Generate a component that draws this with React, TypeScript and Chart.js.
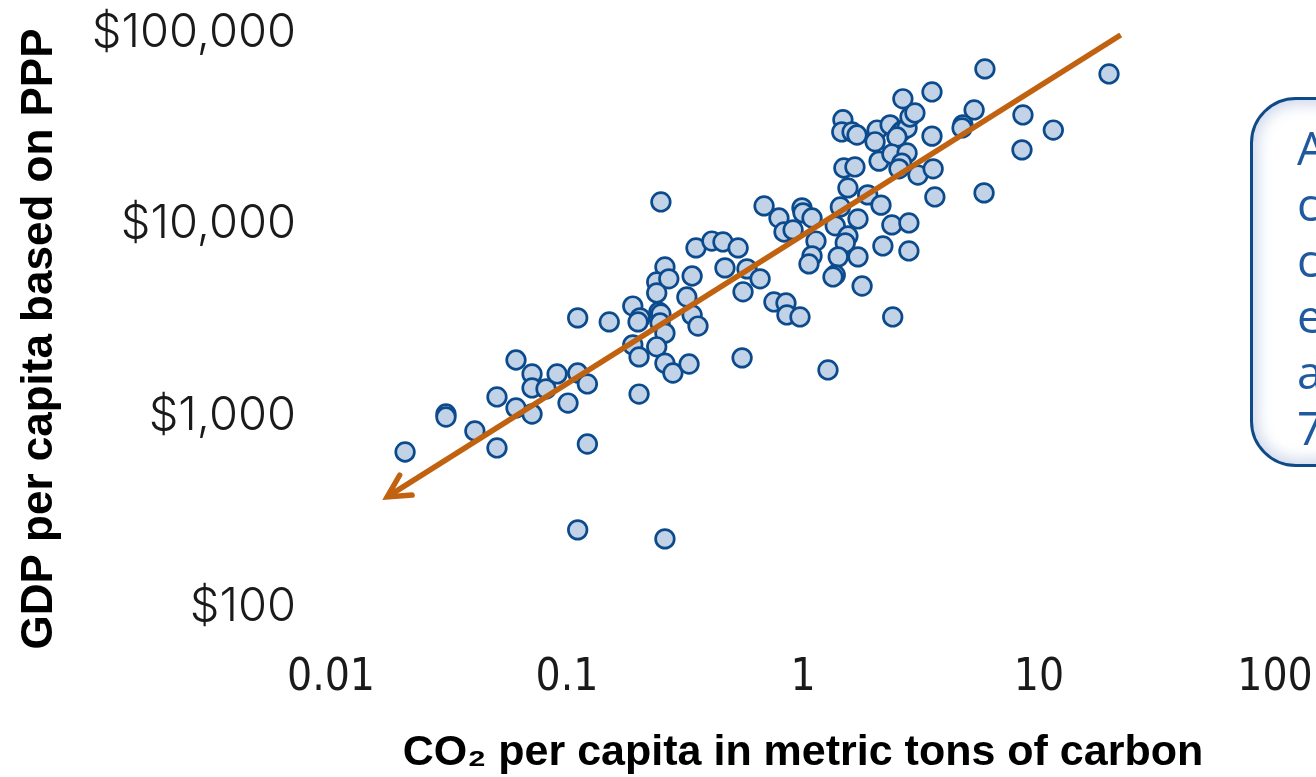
import React, { useEffect, useRef } from "react";
import { Chart, registerables } from "chart.js";

Chart.register(...registerables);

// CO2 per capita (metric tons of carbon) for each country
const co2PerCapita = [
  0.0206, 0.0307, 0.0307, 0.0407, 0.0505, 0.0505, 0.0608, 0.0608, 0.0711, 0.0711,
  0.0815, 0.0711, 0.0908, 0.111, 0.122, 0.101, 0.111, 0.151, 0.122, 0.111,
  0.19, 0.204, 0.2, 0.19, 0.202, 0.202, 0.25, 0.684, 0.791, 0.831,
  0.908, 0.99, 1.0, 1.092, 1.135, 1.092, 1.06, 0.352, 0.411, 0.458,
  0.531, 0.467, 0.579, 0.658, 0.557, 0.26, 0.24, 0.27, 0.24, 0.339,
  0.322, 0.245, 0.25, 0.248, 0.339, 0.359, 0.26, 0.753, 0.847, 0.855,
  0.971, 0.24, 0.26, 0.281, 0.329, 0.552, 1.276, 0.26, 5.9, 19.8,
  3.52, 2.65, 5.31, 8.55, 11.5, 8.47, 4.76, 4.72, 3.52, 1.476,
  1.46, 1.614, 1.694, 2.06, 2.02, 2.34, 2.58, 2.65, 2.76, 2.84,
  2.98, 2.5, 2.1, 2.38, 2.76, 2.62, 2.55, 3.07, 3.56, 1.49,
  1.66, 1.55, 1.88, 2.14, 1.44, 3.62, 5.85, 1.71, 1.37, 2.38,
  2.81, 1.55, 1.51, 2.18, 2.81, 1.41, 1.71, 1.37, 1.34, 1.78,
  2.4,
];

// GDP per capita based on PPP (US$)
const gdpPerCapita = [
  646, 1020, 984, 832, 1253, 678, 1954, 1097, 1652, 1396,
  1380, 1020, 1652, 1671, 1465, 1164, 3243, 3090, 711, 253,
  3741, 3243, 3090, 2345, 2028, 1297, 13090, 12480, 10790, 9120,
  9350, 12190, 11480, 10790, 8180, 6840, 6210, 7530, 8180, 8090,
  7530, 5920, 5850, 5190, 4440, 5990, 5000, 5190, 4380, 5370,
  4170, 3480, 3400, 3050, 3360, 2940, 2700, 3930, 3880, 3360,
  3280, 2290, 1880, 1671, 1862, 2005, 1734, 227, 64900, 61100,
  49200, 45300, 39600, 37300, 31100, 24500, 33100, 31900, 28900, 35200,
  30400, 30400, 29300, 31100, 27000, 33100, 30100, 31100, 31900, 36400,
  38200, 28600, 21400, 23300, 23600, 20900, 19500, 18100, 19500, 19700,
  19950, 15500, 14250, 12600, 12330, 13900, 14600, 10670, 9820, 9930,
  10170, 8690, 8000, 7710, 7260, 6760, 6760, 5440, 5310, 4760,
  3280,
];

// Trend arrow: from upper-right tail to lower-left tip
const trendCo2 = [22.2, 0.0173];
const trendGdp = [97700, 376];

const xTickValues = [0.01, 0.1, 1, 10, 100];
const xTickLabels = ["0.01", "0.1", "1", "10", "100"];
const yTickValues = [100, 1000, 10000, 100000];
const yTickLabels = ["$100", "$1,000", "$10,000", "$100,000"];

const xTitle = "CO\u2082 per capita in metric tons of carbon";
const yTitle = "GDP per capita based on PPP";

const calloutLines = ["A strong", "correlation", "connects", "emissions", "and GDP:", "70% of"];

const ORANGE = "#C0620F";
const POINT_BORDER = "#0B4B8D";
const POINT_FILL = "#C2D3E7";

const arrowPlugin = {
  id: "trendArrow",
  afterDatasetsDraw(chart: any) {
    const xs = chart.scales.x;
    const ys = chart.scales.y;
    const tipX = xs.getPixelForValue(trendCo2[1]);
    const tipY = ys.getPixelForValue(trendGdp[1]);
    const tailX = xs.getPixelForValue(trendCo2[0]);
    const tailY = ys.getPixelForValue(trendGdp[0]);
    const ang = Math.atan2(tailY - tipY, tailX - tipX);
    const len = 25;
    const spread = (28 * Math.PI) / 180;
    const ctx = chart.ctx;
    ctx.save();
    ctx.strokeStyle = ORANGE;
    ctx.lineWidth = 5.5;
    ctx.lineJoin = "miter";
    ctx.lineCap = "round";
    ctx.beginPath();
    ctx.moveTo(tipX + len * Math.cos(ang - spread), tipY + len * Math.sin(ang - spread));
    ctx.lineTo(tipX, tipY);
    ctx.lineTo(tipX + len * Math.cos(ang + spread), tipY + len * Math.sin(ang + spread));
    ctx.stroke();
    ctx.restore();
  },
};

const yTitlePlugin = {
  id: "yTitle",
  afterDraw(chart: any) {
    const ctx = chart.ctx;
    ctx.save();
    ctx.translate(40, 339);
    ctx.rotate(-Math.PI / 2);
    ctx.font = 'bold 44px "Liberation Sans", Arial, sans-serif';
    ctx.fillStyle = "#000";
    ctx.textAlign = "center";
    ctx.textBaseline = "middle";
    ctx.fillText(yTitle, 0, 0);
    ctx.restore();
  },
};

function ScatterChart() {
  const ref = useRef<HTMLCanvasElement | null>(null);
  useEffect(() => {
    if (!ref.current) return;
    const points = co2PerCapita.map((x, i) => ({ x, y: gdpPerCapita[i] }));
    const trend = trendCo2.map((x, i) => ({ x, y: trendGdp[i] }));
    const chart = new Chart(ref.current, {
      type: "scatter",
      data: {
        datasets: [
          {
            type: "line",
            label: "trend",
            data: trend,
            borderColor: ORANGE,
            borderWidth: 5.5,
            pointRadius: 0,
            fill: false,
            order: 0,
          } as any,
          {
            label: "countries",
            data: points,
            pointRadius: 9.3,
            pointBorderWidth: 2.7,
            pointBackgroundColor: POINT_FILL,
            pointBorderColor: POINT_BORDER,
            order: 1,
          },
        ],
      },
      options: {
        responsive: false,
        animation: false,
        devicePixelRatio: 1,
        layout: { padding: { top: 33, right: 125, bottom: 0, left: 0 } },
        plugins: { legend: { display: false }, tooltip: { enabled: false } },
        scales: {
          x: {
            type: "logarithmic",
            min: 0.01,
            max: 100,
            grid: { display: false, drawTicks: false },
            border: { display: false },
            afterBuildTicks: (scale: any) => {
              scale.ticks = xTickValues.map((v) => ({ value: v }));
            },
            afterFit: (scale: any) => {
              scale.height = 170;
              scale.paddingLeft = 0;
              scale.paddingRight = 0;
            },
            ticks: {
              autoSkip: false,
              maxRotation: 0,
              minRotation: 0,
              padding: 45,
              color: "#1a1a1a",
              font: { family: '"DejaVu Sans Condensed", "Liberation Sans Narrow", "DejaVu Sans", sans-serif', size: 44, weight: "normal" },
              callback: (_v: any, i: number) => xTickLabels[i],
            },
            title: {
              display: true,
              text: xTitle,
              color: "#000",
              padding: { top: 0, bottom: 2 },
              font: { family: '"Liberation Sans", Arial, sans-serif', size: 43, weight: "bold", lineHeight: 1.0 },
            },
          },
          y: {
            type: "logarithmic",
            min: 100,
            max: 100000,
            grid: { display: false, drawTicks: false },
            border: { display: false },
            afterBuildTicks: (scale: any) => {
              scale.ticks = yTickValues.map((v) => ({ value: v }));
            },
            afterFit: (scale: any) => {
              scale.width = 331;
              scale.paddingTop = 0;
              scale.paddingBottom = 0;
            },
            ticks: {
              autoSkip: false,
              padding: 35,
              color: "#1a1a1a",
              font: { family: 'Inter, "DejaVu Sans", sans-serif', size: 47, weight: 300 },
              callback: (_v: any, i: number) => yTickLabels[i],
            },
          },
        },
      },
      plugins: [arrowPlugin, yTitlePlugin],
    });
    return () => chart.destroy();
  }, []);
  return <canvas ref={ref} width={1400} height={777} style={{ position: "absolute", left: 0, top: 0 }} />;
}

export default function App() {
  return (
    <div
      style={{
        position: "fixed",
        left: 0,
        top: 0,
        width: 1316,
        height: 777,
        overflow: "hidden",
        background: "#ffffff",
      }}
    >
      <ScatterChart />
      <div
        style={{
          position: "absolute",
          left: 1250,
          top: 97,
          width: 300,
          height: 370,
          border: "3px solid #0F4A88",
          borderRadius: 46,
          boxShadow: "inset 0 0 14px 5px rgba(150,170,210,0.45)",
          background: "#ffffff",
          color: "#1F5A9E",
          fontFamily: '"Open Sans", "Noto Sans", sans-serif',
          fontSize: 46,
          lineHeight: "56px",
          paddingLeft: 44,
          paddingTop: 19,
          boxSizing: "border-box",
          whiteSpace: "nowrap",
        }}
      >
        {calloutLines.map((l, i) => (
          <div key={i}>{l}</div>
        ))}
      </div>
    </div>
  );
}
